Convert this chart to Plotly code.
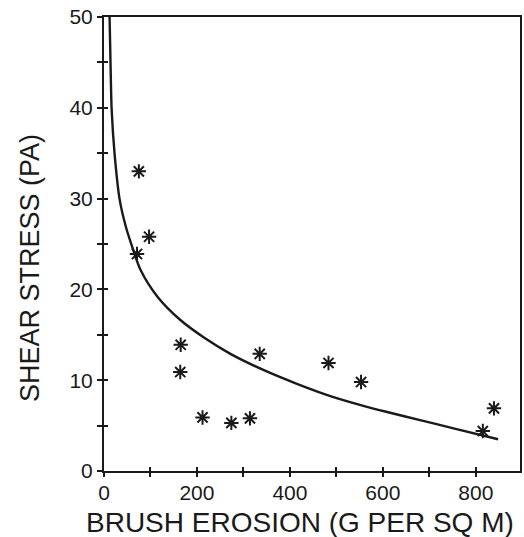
import plotly.graph_objects as go

# measured points (brush erosion g/m^2, shear stress Pa)
erosion = [75, 97, 71, 165, 164, 212, 274, 314, 335, 483, 553, 839, 815]
stress = [33, 25.8, 23.9, 13.9, 10.9, 5.9, 5.3, 5.8, 12.9, 11.9, 9.8, 6.9, 4.4]

# fitted curve
curve_x = [12, 14, 16.5, 23, 34, 47, 58, 79, 115, 165, 215, 272, 344, 415, 487, 560, 609, 680, 752, 848]
curve_y = [50, 45, 39.8, 34.8, 29.8, 26.9, 25.1, 22.1, 19.2, 16.6, 14.7, 12.9, 11.1, 9.6, 8.25, 7.15, 6.5, 5.6, 4.7, 3.5]

x_ticks = [0, 100, 200, 300, 400, 500, 600, 700, 800]
x_labels = ["0", "", "200", "", "400", "", "600", "", "800"]
y_ticks = [0, 5, 10, 15, 20, 25, 30, 35, 40, 45, 50]
y_labels = ["0", "", "10", "", "20", "", "30", "", "40", "", "50"]

ink = "#1a1a1a"
x_range = [0, 895]
y_range = [0, 50]

fig = go.Figure()

fig.add_trace(go.Scatter(
    x=curve_x, y=curve_y, mode="lines",
    line=dict(color=ink, width=2.4, shape="spline", smoothing=0.8),
    showlegend=False, hoverinfo="skip"
))

fig.add_trace(go.Scatter(
    x=erosion, y=stress, mode="markers",
    marker=dict(symbol="asterisk-open", size=12, color=ink, line=dict(color=ink, width=2)),
    showlegend=False
))

# invisible trace on the overlay axes so they get drawn
fig.add_trace(go.Scatter(x=[None], y=[None], xaxis="x2", yaxis="y2", showlegend=False))

axis_font = dict(family="Liberation Sans, Arial, sans-serif", size=21, color=ink)

fig.update_layout(
    width=524, height=537,
    margin=dict(l=104, r=4, t=17, b=66),
    plot_bgcolor="white", paper_bgcolor="white",
    xaxis=dict(
        range=x_range, tickvals=x_ticks, ticktext=x_labels, automargin=False,
        ticks="outside", ticklen=4, tickwidth=1.5, tickcolor=ink,
        showline=True, linecolor=ink, linewidth=2, mirror=True,
        showgrid=False, zeroline=False, tickfont=axis_font,
        ticklabelstandoff=-2, ticklabeloverflow="allow",
    ),
    yaxis=dict(
        range=y_range, tickvals=y_ticks, ticktext=y_labels, automargin=False,
        ticks="outside", ticklen=5, tickwidth=1.5, tickcolor=ink,
        showline=True, linecolor=ink, linewidth=2, mirror=True,
        showgrid=False, zeroline=False, tickfont=axis_font,
        ticklabeloverflow="allow",
    ),
    # overlay axes give the inward half of the crossing ticks
    xaxis2=dict(
        overlaying="x", range=x_range, tickvals=x_ticks, showticklabels=False,
        ticks="inside", ticklen=4, tickwidth=1.5, tickcolor=ink, automargin=False,
        showgrid=False, zeroline=False, showline=False,
    ),
    yaxis2=dict(
        overlaying="y", range=y_range, tickvals=y_ticks, showticklabels=False,
        ticks="inside", ticklen=4, tickwidth=1.5, tickcolor=ink, automargin=False,
        showgrid=False, zeroline=False, showline=False,
    ),
)

# axis titles placed as annotations so they sit where the original has them
fig.add_annotation(
    text="BRUSH EROSION (G PER SQ M)", xref="paper", yref="paper",
    x=0.472, y=-0.1145, xanchor="center", yanchor="middle",
    showarrow=False, font=dict(family="Liberation Sans, Arial, sans-serif", size=28, color=ink),
)
fig.add_annotation(
    text="SHEAR STRESS (PA)", xref="paper", yref="paper", textangle=-90,
    x=-0.178, y=0.447, xanchor="center", yanchor="middle",
    showarrow=False, font=dict(family="Liberation Sans, Arial, sans-serif", size=27, color=ink),
)

# drop the browser's default 8px body margin so the figure fills the window
fig.write_html("out.html", config={"displayModeBar": False},
               post_script="document.body.style.margin='0px';")
